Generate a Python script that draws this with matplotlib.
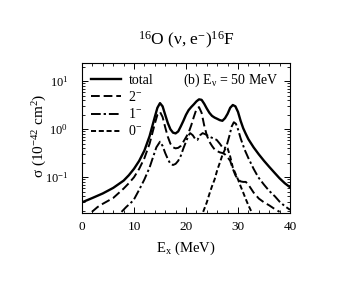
import matplotlib
matplotlib.use("Agg")
import matplotlib.pyplot as plt
from matplotlib.ticker import AutoMinorLocator, LogLocator, NullFormatter, FixedLocator

plt.rcParams['font.family'] = ['Liberation Serif', 'DejaVu Serif']
plt.rcParams['mathtext.fontset'] = 'custom'
plt.rcParams['mathtext.rm'] = 'Liberation Serif'
plt.rcParams['mathtext.it'] = 'Liberation Serif:italic'
plt.rcParams['mathtext.default'] = 'rm'

# ---- data (Ex in MeV, sigma in 1e-42 cm^2) ----
total_x = [0, 2, 4, 6, 8, 9, 10, 11, 12, 13, 14, 14.5, 15, 15.5, 16, 16.5, 17, 17.5, 18,
           18.5, 19, 19.5, 20, 20.5, 21, 21.5, 22, 22.5, 23, 23.5, 24, 24.5, 25, 25.5, 26,
           26.5, 27, 27.5, 28, 28.5, 29, 29.5, 30, 30.5, 31, 31.5, 32, 33, 34, 35, 36, 37,
           38, 39, 40]
total_y = [0.030, 0.037, 0.046, 0.060, 0.085, 0.11, 0.15, 0.22, 0.36, 0.72, 1.8, 2.8, 3.5,
           3.0, 2.0, 1.35, 1.0, 0.85, 0.82, 0.9, 1.15, 1.5, 2.0, 2.5, 2.9, 3.3, 3.8, 4.2,
           4.1, 3.4, 2.7, 2.2, 1.9, 1.75, 1.65, 1.55, 1.5, 1.7, 2.1, 2.8, 3.2, 3.0, 2.3,
           1.5, 1.05, 0.8, 0.62, 0.42, 0.30, 0.22, 0.165, 0.125, 0.095, 0.075, 0.062]

m2_x = [1.9, 3, 4, 6, 8, 9, 10, 11, 12, 13, 14, 14.5, 15, 15.5, 16, 16.5, 17, 17.5, 18,
        18.5, 19, 19.5, 20, 20.5, 21, 21.5, 22, 22.5, 23, 23.5, 24, 24.5, 25, 25.5, 26,
        26.5, 27, 27.5, 28, 28.5, 29, 29.5, 30, 30.5, 31, 31.5, 32, 32.5, 33, 34, 35, 36,
        37, 38]
m2_y = [0.019, 0.024, 0.028, 0.037, 0.058, 0.075, 0.10, 0.15, 0.25, 0.5, 1.3, 2.0, 2.3,
        1.8, 1.1, 0.7, 0.5, 0.42, 0.40, 0.41, 0.45, 0.55, 0.68, 0.85, 1.2, 1.8, 2.6, 2.9,
        2.2, 1.2, 0.75, 0.55, 0.45, 0.38, 0.35, 0.33, 0.32, 0.30, 0.26, 0.22, 0.15, 0.11,
        0.09, 0.082, 0.08, 0.08, 0.07, 0.058, 0.048, 0.036, 0.030, 0.026, 0.022, 0.019]

m1_x = [7.6, 8.5, 9.9, 11, 12, 13, 13.7, 14.3, 15, 15.5, 16, 16.5, 17, 17.5, 18, 18.5, 19,
        19.5, 20, 20.5, 20.8, 21.3, 21.8, 22.2, 22.7, 23.2, 23.8, 24.5, 25.2, 25.9, 26.5,
        27.0, 27.4, 27.8, 28.3, 28.8, 29.2, 29.6, 30, 30.5, 31.3, 32, 33, 33.9, 35, 36,
        37.1, 38, 39, 40]
m1_y = [0.019, 0.024, 0.033, 0.055, 0.09, 0.16, 0.27, 0.42, 0.55, 0.45, 0.32, 0.24, 0.19,
        0.18, 0.19, 0.22, 0.28, 0.4, 0.55, 0.75, 0.83, 0.75, 0.62, 0.6, 0.75, 0.83, 0.78,
        0.7, 0.65, 0.6, 0.5, 0.42, 0.4, 0.45, 0.7, 1.15, 1.4, 1.3, 1.0, 0.65, 0.37, 0.25,
        0.15, 0.10, 0.07, 0.052, 0.04, 0.031, 0.025, 0.021]

m0_x = [23.3, 24, 24.5, 25, 25.5, 26, 26.5, 27, 27.5, 27.8, 28.0, 28.5, 29, 29.5, 30, 30.5,
        31, 31.5, 32, 32.6]
m0_y = [0.019, 0.03, 0.045, 0.065, 0.09, 0.14, 0.2, 0.29, 0.38, 0.42, 0.40, 0.27, 0.16,
        0.12, 0.09, 0.065, 0.048, 0.035, 0.026, 0.019]

labels = ['total', r'2$^{-}$', r'1$^{-}$', r'0$^{-}$']
x_ticks = [0, 10, 20, 30, 40]

fig = plt.figure(figsize=(3.48, 2.83), dpi=100)
ax = fig.add_axes([82/348, 1-213/283, 208/348, 150/283])

lw = 1.4
ax.plot(total_x, total_y, color='black', lw=1.7, label=labels[0])
ax.plot(m2_x, m2_y, color='black', lw=lw, dashes=(4.5, 2), label=labels[1])
ax.plot(m1_x, m1_y, color='black', lw=lw, dashes=(5, 1.5, 1.2, 1.5), label=labels[2])
ax.plot(m0_x, m0_y, color='black', lw=lw, dashes=(2.6, 1.4), label=labels[3])

ax.set_yscale('log')
ax.set_xlim(0, 40)
ax.set_ylim(0.018, 24)
ax.xaxis.set_major_locator(FixedLocator(x_ticks))
ax.xaxis.set_minor_locator(AutoMinorLocator(5))
ax.yaxis.set_major_locator(LogLocator(base=10, numticks=10))
ax.yaxis.set_minor_locator(LogLocator(base=10, subs=range(2, 10), numticks=20))
ax.yaxis.set_minor_formatter(NullFormatter())
ax.tick_params(which='both', direction='in', top=True, right=True)
ax.tick_params(which='major', length=4, width=0.7)
ax.tick_params(which='minor', length=2, width=0.6)
ax.tick_params(axis='y', which='major', pad=10, labelsize=9)
ax.tick_params(axis='x', which='major', pad=6, labelsize=9.5)
for s in ax.spines.values():
    s.set_linewidth(0.8)

fig.text(186/348, 1-248/283, r'E$_{\rm x}$ (MeV)', ha='center', va='center', fontsize=10.5)
fig.text(40/348, 1-136/283, r'$\sigma$ (10$^{-42}$ cm$^{2}$)', ha='center', va='center',
         rotation=90, fontsize=11)
fig.text(186/348, 1-40/283, r'$^{16}$O ($\nu$, e$^{-}$)$^{16}$F', ha='center', va='center',
         fontsize=12.5)
ax.text((278-82)/208, (213-80)/150, r'(b) E$_{\nu}$ = 50 MeV', transform=ax.transAxes,
        ha='right', va='center', fontsize=10)

leg = ax.legend(loc='upper left', bbox_to_anchor=(0.043, 0.925), frameon=False, fontsize=10,
                handlelength=2.2, handletextpad=0.5, labelspacing=0.22, borderaxespad=0,
                borderpad=0)

fig.savefig('out.png', dpi=100)
